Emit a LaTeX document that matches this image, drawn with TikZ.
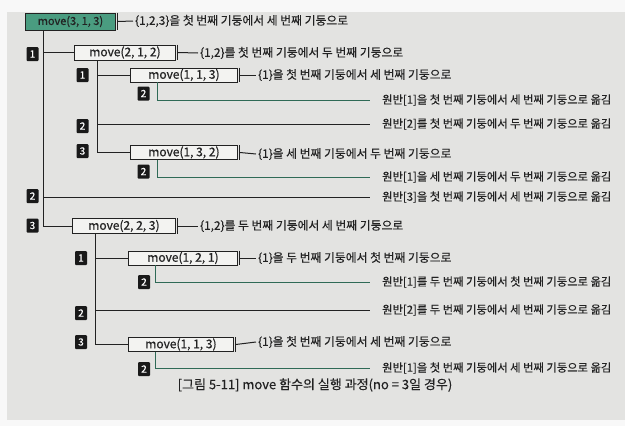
\documentclass[tikz,border=0pt]{standalone}
\usepackage{fontspec}
\setmainfont{Noto Sans CJK KR}
\newfontfamily\boxfont[FakeBold=0.7]{Noto Sans CJK KR}
\newfontfamily\txtfont[FakeBold=0.3]{Noto Sans CJK KR}
\usetikzlibrary{calc}
\definecolor{pagegray}{HTML}{E3E3E1}
\definecolor{margincol}{HTML}{F8F8F8}
\definecolor{teal1}{HTML}{4A9C80}
\definecolor{gline}{HTML}{2F6A56}
\definecolor{ink}{HTML}{222222}
\definecolor{boxfill}{HTML}{F3F3F1}
\begin{document}
\begin{tikzpicture}[x=1pt,y=-1pt,
  callbox/.style={draw=ink, line width=0.9pt, fill=boxfill, minimum height=14pt, inner sep=0pt, anchor=west, font=\boxfont\fontsize{12}{13}\selectfont, text=ink},
  rootbox/.style={callbox, fill=teal1, minimum height=17pt, font=\boxfont\fontsize{11}{12}\selectfont},
  badge/.style={fill=black!90, text=white, rounded corners=1pt, minimum width=12pt, minimum height=14pt, inner sep=0pt, font=\boxfont\fontsize{10}{11}\selectfont},
  cmt/.style={anchor=west, inner sep=0pt, text=ink, font=\txtfont\fontsize{11.8}{13}\selectfont},
  mv/.style={anchor=west, inner sep=0pt, text=ink, font=\txtfont\fontsize{11.3}{13}\selectfont},
  captxt/.style={inner sep=0pt, text=ink, font=\txtfont\fontsize{13}{14}\selectfont},
  tree/.style={draw=ink, line width=1pt},
  gtree/.style={draw=gline, line width=1pt},
  tickline/.style={draw=ink, line width=1pt}
]
\useasboundingbox (0,0) rectangle (625,426);
\fill[margincol] (0,0) rectangle (625,426);
\fill[pagegray] (7,12) rectangle (625,420);

% root
\node[rootbox, minimum width=90pt] (root) at (25,21.5) {move(3, 1, 3)};
\node[cmt] (c0) at (135,21) {\{1,2,3\}을 첫 번째 기둥에서 세 번째 기둥으로};

% level 1 boxes
\node[callbox, minimum width=101pt, minimum height=15pt] (b212) at (74,52.5) {move(2, 1, 2)};
\node[cmt] (c212) at (200,53) {\{1,2\}를 첫 번째 기둥에서 두 번째 기둥으로};
\node[callbox, minimum width=103pt, minimum height=15pt] (b223) at (72,226) {move(2, 2, 3)};
\node[cmt] (c223) at (200,226) {\{1,2\}를 두 번째 기둥에서 세 번째 기둥으로};

% level 2 boxes
\node[callbox, minimum width=107pt] (b113a) at (130,75) {move(1, 1, 3)};
\node[cmt] (c113a) at (258,75) {\{1\}을 첫 번째 기둥에서 세 번째 기둥으로};
\node[callbox, minimum width=107pt] (b132) at (130,152.5) {move(1, 3, 2)};
\node[cmt] (c132) at (258,154) {\{1\}을 세 번째 기둥에서 두 번째 기둥으로};
\node[callbox, minimum width=109pt] (b121) at (128,258) {move(1, 2, 1)};
\node[cmt] (c121) at (258,258) {\{1\}을 두 번째 기둥에서 첫 번째 기둥으로};
\node[callbox, minimum width=105pt] (b113b) at (128,344.5) {move(1, 1, 3)};
\node[cmt] (c113b) at (258,342) {\{1\}을 첫 번째 기둥에서 세 번째 기둥으로};

% move texts
\node[mv] (t1) at (382,100) {원반[1]을 첫 번째 기둥에서 세 번째 기둥으로 옮김};
\node[mv] (t2) at (382,124) {원반[2]를 첫 번째 기둥에서 두 번째 기둥으로 옮김};
\node[mv] (t3) at (382,177) {원반[1]을 세 번째 기둥에서 두 번째 기둥으로 옮김};
\node[mv] (t4) at (382,197) {원반[3]을 첫 번째 기둥에서 세 번째 기둥으로 옮김};
\node[mv] (t5) at (382,282) {원반[1]를 두 번째 기둥에서 첫 번째 기둥으로 옮김};
\node[mv] (t6) at (382,310) {원반[2]를 두 번째 기둥에서 세 번째 기둥으로 옮김};
\node[mv] (t7) at (382,368) {원반[1]을 첫 번째 기둥에서 세 번째 기둥으로 옮김};

% badges
\node[badge] (a1) at (32.5,54) {1};
\node[badge] (a2) at (32.5,196) {2};
\node[badge] (a3) at (32.5,225.5) {3};
\node[badge] (p1) at (82.5,75) {1};
\node[badge] (p2) at (82.5,126) {2};
\node[badge] (p3) at (82.5,151) {3};
\node[badge] (q1) at (81,258) {1};
\node[badge] (q2) at (81,313) {2};
\node[badge] (q3) at (81,342) {3};
\node[badge] (s1) at (143.5,93.5) {2};
\node[badge] (s2) at (143.5,171.5) {2};
\node[badge] (s3) at (144,282) {2};
\node[badge] (s4) at (144,369) {2};

% ticks and comment connectors
\foreach \b/\c in {root/c0, b212/c212, b223/c223, b113a/c113a, b132/c132, b121/c121, b113b/c113b}{
  \draw[tickline] ([xshift=2pt]\b.north east) -- ([xshift=2pt]\b.south east);
  \draw[tickline] ([xshift=2pt]\b.east) -- ([xshift=-2pt]\c.west);
}

% tree connectors
\coordinate (v0) at ($(root.south west)+(18,0)$);
\draw[tree] (v0) |- (b223.west);
\draw[tree] (v0) |- (b212.west);
\draw[tree] (v0) |- ([xshift=-12pt]t4.west);

\coordinate (v1) at ($(b212.south west)+(23,0)$);
\draw[tree] (v1) |- (b132.west);
\draw[tree] (v1) |- (b113a.west);
\draw[tree] (v1) |- ([xshift=-12pt]t2.west);

\coordinate (v2) at ($(b223.south west)+(23,0)$);
\draw[tree] (v2) |- (b113b.west);
\draw[tree] (v2) |- (b121.west);
\draw[tree] (v2) |- ([xshift=-12pt]t6.west);

\draw[gtree] ($(b113a.south west)+(27,0)$) |- ([xshift=-12pt]t1.west);
\draw[gtree] ($(b132.south west)+(27,0)$) |- ([xshift=-12pt]t3.west);
\draw[gtree] ($(b121.south west)+(27,0)$) |- ([xshift=-12pt]t5.west);
\draw[gtree] ($(b113b.south west)+(27,0)$) |- ([xshift=-12pt]t7.west);

% caption
\node[captxt] (capt) at (315,385) {[그림 5-11] move 함수의 실행 과정(no = 3일 경우)};
\end{tikzpicture}
\end{document}
